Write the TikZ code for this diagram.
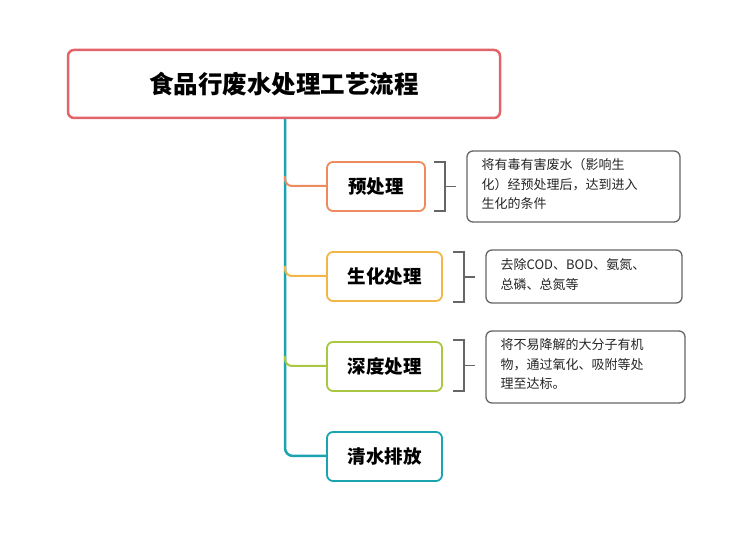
\documentclass[tikz,border=0pt]{standalone}
\usepackage{fontspec}
\setmainfont{Noto Sans CJK SC}
\begin{document}
\begin{tikzpicture}[x=1pt,y=-1pt,
  title/.style={draw=c0,line width=2.5pt,rounded corners=6pt,fill=white,font=\bfseries\fontsize{24.5}{28}\selectfont,text=black},
  stepbox/.style={line width=1.8pt,rounded corners=6pt,fill=white,font=\bfseries\fontsize{18.5}{22}\selectfont,text=black},
  note/.style={draw=gray!80!black,line width=1.3pt,rounded corners=6pt,fill=white,font=\fontsize{13}{19.5}\selectfont,text=black!85,align=left,anchor=north west,inner sep=0pt},
  brk/.style={draw=gray!80!black,line width=1.3pt},
  trunk/.style={line width=2.5pt,rounded corners=8pt}]
\definecolor{c0}{HTML}{E2646A}
\definecolor{c1}{HTML}{EF8A5E}
\definecolor{c2}{HTML}{F4B548}
\definecolor{c3}{HTML}{A9C743}
\definecolor{c4}{HTML}{1BA3B0}
\useasboundingbox (0,0) rectangle (753,545);
\coordinate (t0) at (285,118);
\draw[c4,trunk] (t0) -- (285,456) -- (327,456);
\draw[c1,line width=2pt,rounded corners=7pt] (285,176) -- (285,186) -- (327,186);
\draw[c2,line width=2pt,rounded corners=7pt] (285,266) -- (285,276) -- (327,276);
\draw[c3,line width=2pt,rounded corners=7pt] (285,356) -- (285,366) -- (327,366);
\node[title,minimum width=432pt,minimum height=68pt] (t) at (284,84) {食品行废水处理工艺流程};
\node[stepbox,draw=c1,minimum width=98pt,minimum height=49pt] (a) at (376,186.5) {预处理};
\node[stepbox,draw=c2,minimum width=115pt,minimum height=49pt] (b) at (384.5,276.5) {生化处理};
\node[stepbox,draw=c3,minimum width=115pt,minimum height=49pt] (c) at (384.5,366.5) {深度处理};
\node[stepbox,draw=c4,minimum width=115pt,minimum height=49pt] (d) at (384.5,456.5) {清水排放};
\draw[brk] (434,162) -- (445,162) -- (445,211) -- (434,211);
\draw[brk] (445,186.5) -- (456,186.5);
\draw[brk] (453,252) -- (464,252) -- (464,302) -- (453,302);
\draw[brk] (464,277) -- (475,277);
\draw[brk] (453,340) -- (464,340) -- (464,391) -- (453,391);
\draw[brk] (464,365.5) -- (475,365.5);
\draw[note] (467,151) rectangle (680,222);
\node[note,draw=none,fill=none] (n1) at (481,158) {将有毒有害废水（影响生\\化）经预处理后，达到进入\\生化的条件};
\draw[note] (486,250) rectangle (682,303);
\node[note,draw=none,fill=none] (n2) at (500,258) {去除COD、BOD、氨氮、\\总磷、总氮等};
\draw[note] (486,331) rectangle (685,403);
\node[note,draw=none,fill=none] (n3) at (500,338) {将不易降解的大分子有机\\物，通过氧化、吸附等处\\理至达标。};
\end{tikzpicture}
\end{document}
